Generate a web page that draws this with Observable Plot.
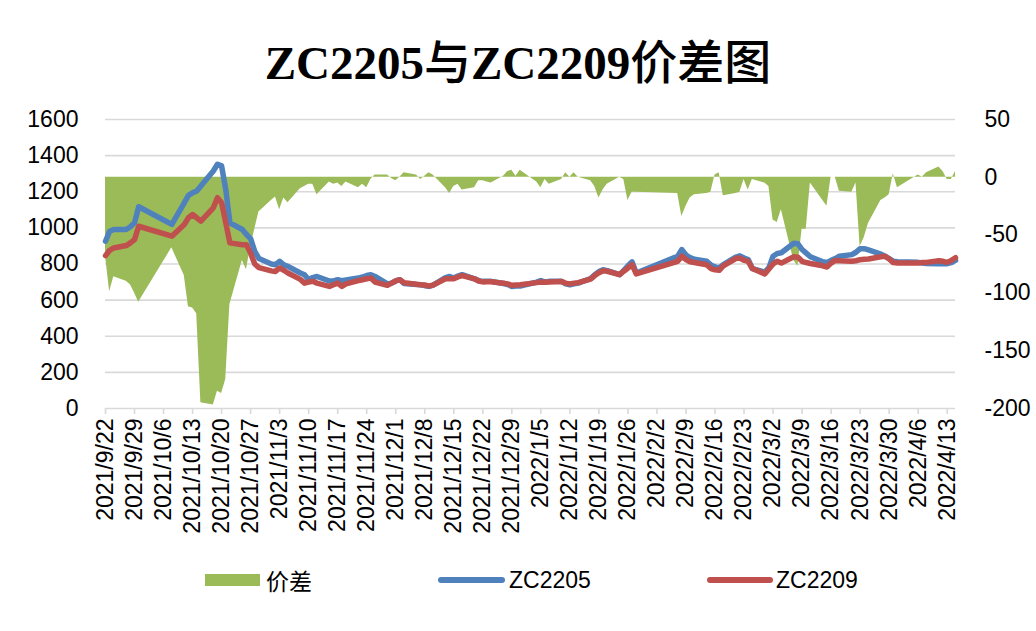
<!DOCTYPE html>
<html><head><meta charset="utf-8">
<script src="https://cdn.jsdelivr.net/npm/d3@7"></script>
<script src="https://cdn.jsdelivr.net/npm/@observablehq/plot@0.6"></script>
<style>
html,body{margin:0;padding:0;background:#fff;}
body{width:1036px;height:631px;overflow:hidden;position:relative;font-family:"Liberation Sans",Arial,sans-serif;}
#title{position:absolute;left:0;top:35px;width:1036px;text-align:center;font-family:"Liberation Serif",serif;font-weight:bold;font-size:47px;line-height:47px;color:#000;white-space:nowrap;}
#title .cjk{font-family:"Noto Sans CJK SC",sans-serif;font-weight:500;}
#chart{position:absolute;left:0;top:100px;}
#legend{position:absolute;left:0;top:562px;width:1036px;height:36px;font-size:23px;color:#000;}
#legend .sw{position:absolute;}
#legend .tx{position:absolute;top:0;line-height:36px;white-space:nowrap;}
</style></head>
<body>
<div id="title"><span>ZC2205</span><span class="cjk">与</span><span>ZC2209</span><span class="cjk">价差图</span></div>
<div id="chart"></div>
<div id="legend"></div>
<script>
const dates = ["2021-09-22","2021-09-23","2021-09-24","2021-09-27","2021-09-28","2021-09-29","2021-09-30","2021-10-08","2021-10-11","2021-10-12","2021-10-13","2021-10-14","2021-10-15","2021-10-18","2021-10-19","2021-10-20","2021-10-21","2021-10-22","2021-10-25","2021-10-26","2021-10-27","2021-10-28","2021-10-29","2021-11-01","2021-11-02","2021-11-03","2021-11-04","2021-11-05","2021-11-08","2021-11-09","2021-11-10","2021-11-11","2021-11-12","2021-11-15","2021-11-16","2021-11-17","2021-11-18","2021-11-19","2021-11-22","2021-11-23","2021-11-24","2021-11-25","2021-11-26","2021-11-29","2021-11-30","2021-12-01","2021-12-02","2021-12-03","2021-12-06","2021-12-07","2021-12-08","2021-12-09","2021-12-10","2021-12-13","2021-12-14","2021-12-15","2021-12-16","2021-12-17","2021-12-20","2021-12-21","2021-12-22","2021-12-23","2021-12-24","2021-12-27","2021-12-28","2021-12-29","2021-12-30","2021-12-31","2022-01-04","2022-01-05","2022-01-06","2022-01-07","2022-01-10","2022-01-11","2022-01-12","2022-01-13","2022-01-14","2022-01-17","2022-01-18","2022-01-19","2022-01-20","2022-01-21","2022-01-24","2022-01-25","2022-01-26","2022-01-27","2022-01-28","2022-02-07","2022-02-08","2022-02-09","2022-02-10","2022-02-11","2022-02-14","2022-02-15","2022-02-16","2022-02-17","2022-02-18","2022-02-21","2022-02-22","2022-02-23","2022-02-24","2022-02-25","2022-02-28","2022-03-01","2022-03-02","2022-03-03","2022-03-04","2022-03-07","2022-03-08","2022-03-09","2022-03-10","2022-03-11","2022-03-14","2022-03-15","2022-03-16","2022-03-17","2022-03-18","2022-03-21","2022-03-22","2022-03-23","2022-03-24","2022-03-25","2022-03-28","2022-03-29","2022-03-30","2022-03-31","2022-04-01","2022-04-06","2022-04-07","2022-04-08","2022-04-11","2022-04-12","2022-04-13","2022-04-14","2022-04-15"];

const zc2205 = [926,981,991,991,1006,1028,1117,1019,1139,1180,1194,1204,1232,1315,1352,1343,1213,1028,991,963,940,870,830,800,796,815,795,787,750,740,713,725,731,706,706,713,708,712,722,728,736,741,731,690,694,706,713,692,686,685,680,676,683,725,731,722,733,741,718,708,704,704,704,692,686,676,678,678,700,709,700,704,704,690,685,690,694,720,741,758,768,763,741,765,790,812,750,843,880,850,835,826,815,795,784,778,796,838,845,833,825,775,755,780,843,858,862,915,912,880,860,840,812,809,820,830,843,852,865,885,885,878,855,843,830,815,812,809,806,803,802,802,802,808,820];

const zc2209 = [846,876,889,902,917,935,1009,954,1019,1056,1074,1056,1037,1111,1167,1139,1028,917,907,907,860,800,780,762,759,778,765,750,715,694,700,704,694,676,685,694,676,690,708,713,718,722,700,682,694,706,713,696,688,685,684,678,683,718,718,718,728,736,718,706,701,702,702,694,690,682,684,685,697,700,699,700,703,693,690,694,697,716,736,752,762,760,741,760,778,796,745,815,843,825,812,808,796,775,768,765,790,830,833,820,815,775,745,772,800,815,805,840,838,815,808,803,790,783,805,820,818,815,818,824,826,828,840,843,828,808,806,806,808,809,818,815,809,820,835];

const spread = [-68,-99,-86,-90,-93,-100,-108,-61,-85,-112,-113,-118,-195,-197,-185,-187,-175,-110,-72,-80,-60,-45,-30,-20,-17,-28,-18,-22,-10,-8,-6,-6,-15,-4,-6,-5,-8,-4,-9,-6,-9,-2,2,2,-1,-3,0,4,2,-2,1,4,2,-9,-14,-8,-6,-11,-9,-3,-3,-4,-5,1,5,6,1,6,-4,-9,-2,-6,-2,4,0,4,0,-3,-8,-18,-11,-6,0,-2,-20,-13,-13,-14,-34,-25,-18,-15,-14,-13,2,4,-16,-14,-13,-2,-11,-2,-5,-8,-37,-39,-28,-72,-77,-45,-45,-5,-20,-25,0,0,-12,-13,-5,-60,-52,-40,-20,-18,-15,3,-9,2,0,4,9,5,-2,-2,5];

const tickLabels = ["2021/9/22","2021/9/29","2021/10/6","2021/10/13","2021/10/20","2021/10/27","2021/11/3","2021/11/10","2021/11/17","2021/11/24","2021/12/1","2021/12/8","2021/12/15","2021/12/22","2021/12/29","2022/1/5","2022/1/12","2022/1/19","2022/1/26","2022/2/2","2022/2/9","2022/2/16","2022/2/23","2022/3/2","2022/3/9","2022/3/16","2022/3/23","2022/3/30","2022/4/6","2022/4/13"];

const leftTicks = [0,200,400,600,800,1000,1200,1400,1600];
const rightTicks = [-200,-150,-100,-50,0,50];

const seriesNames = ["价差","ZC2205","ZC2209"];
const seriesColors = ["#9bbb59","#4f81bd","#c0504d"];

const parse = s => { const [y,m,d] = s.split(/[-\/]/).map(Number); return new Date(Date.UTC(y, m - 1, d)); };
// secondary (right) axis range -200..50 mapped onto primary 0..1600
const rMin = rightTicks[0], rMax = rightTicks[rightTicks.length - 1];
const lMin = leftTicks[0], lMax = leftTicks[leftTicks.length - 1];
const toLeft = v => lMin + (v - rMin) * (lMax - lMin) / (rMax - rMin);
const toRight = v => Math.round(rMin + (v - lMin) * (rMax - rMin) / (lMax - lMin));

const rows = dates.map((d, i) => ({date: parse(d), a: zc2205[i], b: zc2209[i], s: toLeft(spread[i]), z: toLeft(0)}));
const tickDates = tickLabels.map(parse);
const labelOf = new Map(tickDates.map((d, i) => [+d, tickLabels[i]]));

const chart = Plot.plot({
  width: 1036,
  height: 440,
  marginLeft: 105,
  marginRight: 81,
  marginTop: 19,
  marginBottom: 132,
  style: {fontFamily: '"Liberation Sans", Arial, sans-serif', fontSize: "23px", color: "#000", background: "#fff"},
  x: {type: "utc", domain: [parse(dates[0]), parse(dates[dates.length - 1])]},
  y: {domain: [lMin, lMax]},
  marks: [
    Plot.gridY(leftTicks.slice(1), {stroke: "#d9d9d9", strokeOpacity: 1, strokeWidth: 1.6}),
    Plot.areaY(rows, {x: "date", y1: "z", y2: "s", fill: seriesColors[0], fillOpacity: 1}),
    Plot.line(rows, {x: "date", y: "a", stroke: seriesColors[1], strokeWidth: 5.5, strokeLinejoin: "round", strokeLinecap: "round"}),
    Plot.line(rows, {x: "date", y: "b", stroke: seriesColors[2], strokeWidth: 5.5, strokeLinejoin: "round", strokeLinecap: "round"}),
    Plot.ruleY([lMin], {stroke: "#d9d9d9", strokeWidth: 1.6}),
    Plot.axisX(tickDates, {anchor: "bottom", tickRotate: -90, tickSize: 6, tickPadding: 4, stroke: "#d9d9d9", strokeWidth: 1.6, strokeOpacity: 1, fill: "#000", fontSize: 23, tickFormat: d => labelOf.get(+d), label: null}),
    Plot.axisY(leftTicks, {anchor: "left", tickSize: 0, tickPadding: 27, fill: "#000", fontSize: 23, tickFormat: v => String(v), label: null}),
    Plot.axisY(rightTicks.map(toLeft), {anchor: "right", tickSize: 0, tickPadding: 29, fill: "#000", fontSize: 23, tickFormat: v => String(toRight(v)), label: null})
  ]
});
document.getElementById("chart").appendChild(chart);

// legend
const legend = document.getElementById("legend");
const items = [
  {sw: {left: 205, top: 12, width: 55, height: 12, radius: 0}, tx: 266, cjk: true},
  {sw: {left: 438, top: 15, width: 67, height: 6, radius: 3}, tx: 509, cjk: false},
  {sw: {left: 707, top: 15, width: 66, height: 6, radius: 3}, tx: 776, cjk: false}
];
items.forEach((it, i) => {
  const s = document.createElement("div");
  s.className = "sw";
  Object.assign(s.style, {left: it.sw.left + "px", top: it.sw.top + "px", width: it.sw.width + "px", height: it.sw.height + "px", background: seriesColors[i], borderRadius: it.sw.radius + "px"});
  legend.appendChild(s);
  const t = document.createElement("div");
  t.className = "tx";
  t.style.left = it.tx + "px";
  if (it.cjk) t.style.fontFamily = '"Noto Sans CJK SC", sans-serif';
  t.textContent = seriesNames[i];
  legend.appendChild(t);
});
</script>
</body></html>
